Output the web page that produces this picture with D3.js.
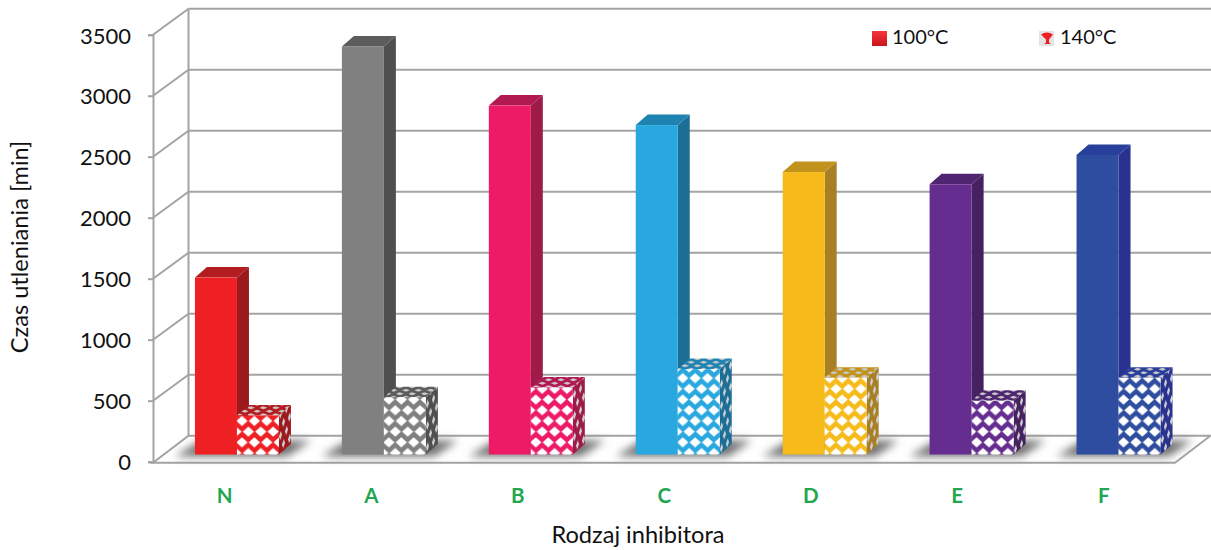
<!DOCTYPE html>
<html>
<head>
<meta charset="utf-8">
<script src="https://cdnjs.cloudflare.com/ajax/libs/d3/7.8.5/d3.min.js"></script>
<style>
  html, body { margin: 0; background: #fff; }
  text { font-family: Lato, "Open Sans", sans-serif; }
</style>
</head>
<body>
<div id="chart"></div>
<script>
// values
const categories = ["N", "A", "B", "C", "D", "E", "F"];
const values100 = [1450, 3345, 2860, 2700, 2315, 2215, 2455];
const values140 = [320, 470, 550, 700, 630, 440, 630];
const yTicks = [0, 500, 1000, 1500, 2000, 2500, 3000, 3500];
const seriesNames = ["100°C", "140°C"];
const frontColors = ["#ee2024", "#808080", "#ed1a65", "#29a8e0", "#f6bb1a", "#662d91", "#2e4da0"];
const sideColors = ["#9c1a1e", "#4f4f4f", "#9e1a47", "#1b6f96", "#a87f25", "#45215f", "#2a3290"];
const topColors = ["#b31c20", "#5c5c5c", "#b01a50", "#1f83b2", "#c2931c", "#4f2572", "#28409a"];

const width = 1211, height = 550;
const axisX = 153, floorY = 461.7, plotH = 427;
const depthX = 35.5, depthY = 26;   // wall offset
const floorRight = 1175;
const barDX = 12, barDY = 10.5;     // bar depth
const barBase = 454.5;
const barW = 42;

const svg = d3.select("#chart").append("svg").attr("width", width).attr("height", height);
const defs = svg.append("defs");

const y = d3.scaleLinear().domain([0, 3500]).range([floorY, floorY - plotH]);
const barY = d3.scaleLinear().domain([0, 3500]).range([barBase, barBase - plotH]);
const x = d3.scaleBand().domain(categories).range([151.5, 1180]).padding(0);
const xLabels = d3.scaleBand().domain(categories).range([151.5, 1177]).padding(0);
const barX = d => x(d) + x.bandwidth() / 2 - 30;

defs.append("filter").attr("id", "blur").attr("x", "-30%").attr("y", "-80%").attr("width", "160%").attr("height", "260%")
  .append("feGaussianBlur").attr("stdDeviation", 4.5);

// ─── diamond patterns, one per category ───────────────────────────────────────
const diamond = (cx, cy, w, h) => `M${cx - w},${cy}L${cx},${cy - h}L${cx + w},${cy}L${cx},${cy + h}Z`;

categories.forEach((c, i) => {
  const front = defs.append("pattern").attr("id", `front${i}`).attr("patternUnits", "userSpaceOnUse")
    .attr("x", barX(c) + barW - 1).attr("y", barBase - 17.5).attr("width", 12.4).attr("height", 21.4);
  front.append("rect").attr("width", 12.4).attr("height", 21.4).attr("fill", frontColors[i]);
  [[6, 5.35], [0, 16.05], [12.4, 16.05]].forEach(([cx, cy]) => {
    front.append("path").attr("fill", "#fff").attr("d", diamond(cx, cy, 5.6, 5));
  });

  const side = defs.append("pattern").attr("id", `side${i}`).attr("patternUnits", "userSpaceOnUse")
    .attr("width", 6).attr("height", 21.4).attr("patternTransform", "skewY(-41)");
  side.append("rect").attr("width", 6).attr("height", 21.4).attr("fill", sideColors[i]);
  [[1.5, 5.35], [4.5, 16.05]].forEach(([cx, cy]) => {
    side.append("path").attr("fill", "#d0d0d0").attr("d", diamond(cx, cy, 1.6, 4.6));
  });

  const top = defs.append("pattern").attr("id", `top${i}`).attr("patternUnits", "userSpaceOnUse")
    .attr("width", 12.4).attr("height", 7);
  top.append("rect").attr("width", 12.4).attr("height", 7).attr("fill", topColors[i]);
  [[3, 1.75], [9.2, 5.25]].forEach(([cx, cy]) => {
    top.append("path").attr("fill", "#c8c8c8").attr("d", diamond(cx, cy, 4, 1.6));
  });
});

// ─── walls and floor ─────────────────────────────────────────────────────────
const grid = svg.append("g").attr("fill", "none").attr("stroke", "#a3a3a3").attr("stroke-width", 2);
const wall = yTicks.filter(t => t > 0);
grid.selectAll(".back").data(wall).enter().append("line").attr("class", "back")
  .attr("x1", axisX + depthX).attr("x2", width)
  .attr("y1", d => y(d) - depthY).attr("y2", d => y(d) - depthY);
grid.selectAll(".diag").data(wall).enter().append("line").attr("class", "diag")
  .attr("x1", axisX).attr("x2", axisX + depthX)
  .attr("y1", d => y(d)).attr("y2", d => y(d) - depthY);
grid.append("line")
  .attr("x1", axisX + depthX).attr("x2", axisX + depthX)
  .attr("y1", y(3500) - depthY).attr("y2", y(0) - depthY);
grid.append("path").attr("fill", "#fff")
  .attr("d", `M${axisX},${floorY + 1}L${floorRight},${floorY + 1}L${floorRight + depthX},${floorY - depthY}L${axisX + depthX},${floorY - depthY}Z`);

// ─── shadows on the floor ─────────────────────────────────────────────────────
svg.append("g").attr("filter", "url(#blur)").selectAll("path").data(categories).enter().append("path")
  .attr("fill", "#6f6f6f")
  .attr("d", d => {
    const bx = barX(d);
    return `M${bx - 20},${barBase + 2}L${bx + barW * 2 + 8},${barBase + 2}L${bx + barW * 2 + 32},${barBase - 14}L${bx + 6},${barBase - 14}Z`;
  });

// ─── bars ────────────────────────────────────────────────────────────────────
function drawBar(g, bx, topY, w, frontFill, sideFill, topFill) {
  g.append("path").attr("fill", sideFill)
    .attr("d", `M${bx + w},${topY}L${bx + w + barDX},${topY - barDY}L${bx + w + barDX},${barBase - barDY}L${bx + w},${barBase}Z`);
  g.append("path").attr("fill", topFill)
    .attr("d", `M${bx},${topY}L${bx + barDX},${topY - barDY}L${bx + w + barDX},${topY - barDY}L${bx + w},${topY}Z`);
  g.append("rect").attr("x", bx).attr("y", topY).attr("width", w).attr("height", barBase - topY).attr("fill", frontFill);
}

const bars = svg.append("g");
categories.forEach((c, i) => {
  const g = bars.append("g");
  drawBar(g, barX(c), barY(values100[i]), barW, frontColors[i], sideColors[i], topColors[i]);
  drawBar(g, barX(c) + barW, barY(values140[i]), barW, `url(#front${i})`, `url(#side${i})`, `url(#top${i})`);
});

// ─── axes ────────────────────────────────────────────────────────────────────
const yAxis = svg.append("g").attr("transform", `translate(${axisX},0)`)
  .call(d3.axisLeft(y).tickValues(yTicks).tickSize(5).tickPadding(17).tickFormat(d3.format("d")));
yAxis.selectAll("line, path").attr("stroke", "#a3a3a3").attr("stroke-width", 2);
yAxis.selectAll("text").attr("font-size", 22).attr("font-family", "Lato").attr("fill", "#111")
  .attr("transform", "translate(0,1)");
yAxis.selectAll(".tick").filter(d => d === 3500).select("text").attr("transform", "translate(0,2)");

const xAxis = svg.append("g").attr("transform", "translate(0,496)")
  .call(d3.axisBottom(xLabels).tickSize(0).tickPadding(0));
xAxis.select(".domain").remove();
xAxis.selectAll("text").attr("font-size", 20.5).attr("font-weight", 700).attr("font-family", "Lato")
  .attr("fill", "#22a650").attr("dy", "0.32em").attr("y", 0);

svg.append("text").attr("x", 638).attr("y", 543).attr("text-anchor", "middle")
  .attr("font-size", 23.6).attr("fill", "#111").text("Rodzaj inhibitora");
svg.append("text").attr("transform", "translate(28,247) rotate(-90)").attr("text-anchor", "middle")
  .attr("font-size", 23.6).attr("fill", "#111").text("Czas utleniania [min]");

// ─── legend ──────────────────────────────────────────────────────────────────
const legendX = [872, 1039];
const grad = defs.append("linearGradient").attr("id", "legendRed").attr("x1", 0).attr("x2", 0).attr("y1", 0).attr("y2", 1);
grad.append("stop").attr("offset", 0).attr("stop-color", "#f6353a");
grad.append("stop").attr("offset", 1).attr("stop-color", "#c8161b");

const legend = svg.append("g").selectAll("g").data(seriesNames).enter().append("g")
  .attr("transform", (d, i) => `translate(${legendX[i]},31)`);
legend.append("rect").attr("width", 15).attr("height", 15)
  .attr("fill", (d, i) => i === 0 ? "url(#legendRed)" : "#e4e4e4");
legend.filter((d, i) => i === 1).append("path").attr("fill", "#ee2024")
  .attr("d", "M2,3.5Q8,-0.5 14,3.5L10,8.5L10,11.5L12,13L5,13L7,11.5L7,8.5Z");
legend.append("text").attr("x", (d, i) => i === 0 ? 20 : 21).attr("y", 13).attr("font-size", 20).attr("fill", "#111").text(d => d);
</script>
</body>
</html>
